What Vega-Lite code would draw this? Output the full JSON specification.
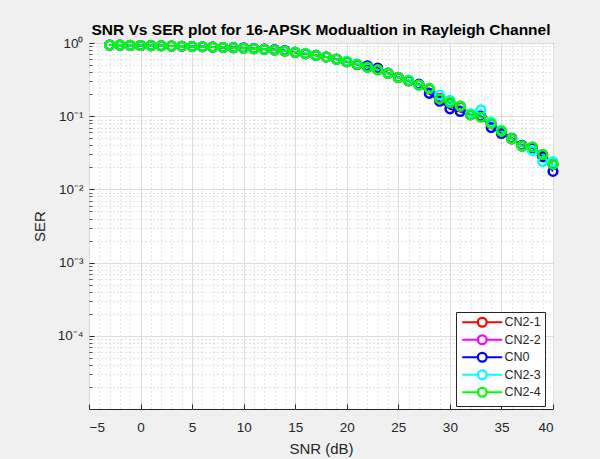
{
  "$schema": "https://vega.github.io/schema/vega-lite/v6.json",
  "width": 464,
  "height": 366,
  "autosize": "none",
  "padding": {"left": 89, "top": 43, "right": 47, "bottom": 50},
  "background": "#f0f0f0",
  "config": {
    "view": {"fill": "white", "stroke": "#262626", "strokeWidth": 1},
    "font": "Liberation Sans"
  },
  "title": {
    "text": "SNR Vs SER plot for 16-APSK Modualtion in Rayleigh Channel",
    "font": "Liberation Sans",
    "fontSize": 15.5,
    "fontWeight": "bold",
    "color": "black",
    "anchor": "middle",
    "frame": "group",
    "offset": -3
  },
  "datasets": {
    "ser": [
      {"s": "CN2-1", "snr": -3, "ser": 0.94}, {"s": "CN2-1", "snr": -2, "ser": 0.935}, {"s": "CN2-1", "snr": -1, "ser": 0.93}, {"s": "CN2-1", "snr": 0, "ser": 0.925}, {"s": "CN2-1", "snr": 1, "ser": 0.92}, {"s": "CN2-1", "snr": 2, "ser": 0.915}, {"s": "CN2-1", "snr": 3, "ser": 0.91}, {"s": "CN2-1", "snr": 4, "ser": 0.905}, {"s": "CN2-1", "snr": 5, "ser": 0.895}, {"s": "CN2-1", "snr": 6, "ser": 0.89}, {"s": "CN2-1", "snr": 7, "ser": 0.88}, {"s": "CN2-1", "snr": 8, "ser": 0.87}, {"s": "CN2-1", "snr": 9, "ser": 0.86}, {"s": "CN2-1", "snr": 10, "ser": 0.85}, {"s": "CN2-1", "snr": 11, "ser": 0.835}, {"s": "CN2-1", "snr": 12, "ser": 0.82}, {"s": "CN2-1", "snr": 13, "ser": 0.8}, {"s": "CN2-1", "snr": 14, "ser": 0.775}, {"s": "CN2-1", "snr": 15, "ser": 0.745}, {"s": "CN2-1", "snr": 16, "ser": 0.715}, {"s": "CN2-1", "snr": 17, "ser": 0.68}, {"s": "CN2-1", "snr": 18, "ser": 0.645}, {"s": "CN2-1", "snr": 19, "ser": 0.6}, {"s": "CN2-1", "snr": 20, "ser": 0.557}, {"s": "CN2-1", "snr": 21, "ser": 0.512}, {"s": "CN2-1", "snr": 22, "ser": 0.47}, {"s": "CN2-1", "snr": 23, "ser": 0.432}, {"s": "CN2-1", "snr": 24, "ser": 0.385}, {"s": "CN2-1", "snr": 25, "ser": 0.34}, {"s": "CN2-1", "snr": 26, "ser": 0.305}, {"s": "CN2-1", "snr": 27, "ser": 0.268}, {"s": "CN2-1", "snr": 28, "ser": 0.235}, {"s": "CN2-1", "snr": 29, "ser": 0.175}, {"s": "CN2-1", "snr": 30, "ser": 0.152}, {"s": "CN2-1", "snr": 31, "ser": 0.135}, {"s": "CN2-1", "snr": 32, "ser": 0.105}, {"s": "CN2-1", "snr": 33, "ser": 0.099}, {"s": "CN2-1", "snr": 34, "ser": 0.079}, {"s": "CN2-1", "snr": 35, "ser": 0.062}, {"s": "CN2-1", "snr": 36, "ser": 0.049}, {"s": "CN2-1", "snr": 37, "ser": 0.039}, {"s": "CN2-1", "snr": 38, "ser": 0.037}, {"s": "CN2-1", "snr": 39, "ser": 0.029}, {"s": "CN2-1", "snr": 40, "ser": 0.022},
      {"s": "CN2-2", "snr": -3, "ser": 0.94}, {"s": "CN2-2", "snr": -2, "ser": 0.935}, {"s": "CN2-2", "snr": -1, "ser": 0.93}, {"s": "CN2-2", "snr": 0, "ser": 0.925}, {"s": "CN2-2", "snr": 1, "ser": 0.92}, {"s": "CN2-2", "snr": 2, "ser": 0.915}, {"s": "CN2-2", "snr": 3, "ser": 0.91}, {"s": "CN2-2", "snr": 4, "ser": 0.905}, {"s": "CN2-2", "snr": 5, "ser": 0.895}, {"s": "CN2-2", "snr": 6, "ser": 0.89}, {"s": "CN2-2", "snr": 7, "ser": 0.88}, {"s": "CN2-2", "snr": 8, "ser": 0.87}, {"s": "CN2-2", "snr": 9, "ser": 0.86}, {"s": "CN2-2", "snr": 10, "ser": 0.85}, {"s": "CN2-2", "snr": 11, "ser": 0.835}, {"s": "CN2-2", "snr": 12, "ser": 0.82}, {"s": "CN2-2", "snr": 13, "ser": 0.8}, {"s": "CN2-2", "snr": 14, "ser": 0.775}, {"s": "CN2-2", "snr": 15, "ser": 0.745}, {"s": "CN2-2", "snr": 16, "ser": 0.715}, {"s": "CN2-2", "snr": 17, "ser": 0.68}, {"s": "CN2-2", "snr": 18, "ser": 0.645}, {"s": "CN2-2", "snr": 19, "ser": 0.6}, {"s": "CN2-2", "snr": 20, "ser": 0.556}, {"s": "CN2-2", "snr": 21, "ser": 0.51}, {"s": "CN2-2", "snr": 22, "ser": 0.468}, {"s": "CN2-2", "snr": 23, "ser": 0.43}, {"s": "CN2-2", "snr": 24, "ser": 0.385}, {"s": "CN2-2", "snr": 25, "ser": 0.339}, {"s": "CN2-2", "snr": 26, "ser": 0.305}, {"s": "CN2-2", "snr": 27, "ser": 0.267}, {"s": "CN2-2", "snr": 28, "ser": 0.238}, {"s": "CN2-2", "snr": 29, "ser": 0.176}, {"s": "CN2-2", "snr": 30, "ser": 0.154}, {"s": "CN2-2", "snr": 31, "ser": 0.137}, {"s": "CN2-2", "snr": 32, "ser": 0.104}, {"s": "CN2-2", "snr": 33, "ser": 0.098}, {"s": "CN2-2", "snr": 34, "ser": 0.079}, {"s": "CN2-2", "snr": 35, "ser": 0.062}, {"s": "CN2-2", "snr": 36, "ser": 0.049}, {"s": "CN2-2", "snr": 37, "ser": 0.039}, {"s": "CN2-2", "snr": 38, "ser": 0.038}, {"s": "CN2-2", "snr": 39, "ser": 0.03}, {"s": "CN2-2", "snr": 40, "ser": 0.022},
      {"s": "CN0", "snr": -3, "ser": 0.94}, {"s": "CN0", "snr": -2, "ser": 0.935}, {"s": "CN0", "snr": -1, "ser": 0.93}, {"s": "CN0", "snr": 0, "ser": 0.925}, {"s": "CN0", "snr": 1, "ser": 0.92}, {"s": "CN0", "snr": 2, "ser": 0.915}, {"s": "CN0", "snr": 3, "ser": 0.91}, {"s": "CN0", "snr": 4, "ser": 0.905}, {"s": "CN0", "snr": 5, "ser": 0.895}, {"s": "CN0", "snr": 6, "ser": 0.89}, {"s": "CN0", "snr": 7, "ser": 0.88}, {"s": "CN0", "snr": 8, "ser": 0.87}, {"s": "CN0", "snr": 9, "ser": 0.865}, {"s": "CN0", "snr": 10, "ser": 0.862}, {"s": "CN0", "snr": 11, "ser": 0.84}, {"s": "CN0", "snr": 12, "ser": 0.825}, {"s": "CN0", "snr": 13, "ser": 0.815}, {"s": "CN0", "snr": 14, "ser": 0.79}, {"s": "CN0", "snr": 15, "ser": 0.745}, {"s": "CN0", "snr": 16, "ser": 0.715}, {"s": "CN0", "snr": 17, "ser": 0.68}, {"s": "CN0", "snr": 18, "ser": 0.645}, {"s": "CN0", "snr": 19, "ser": 0.605}, {"s": "CN0", "snr": 20, "ser": 0.555}, {"s": "CN0", "snr": 21, "ser": 0.51}, {"s": "CN0", "snr": 22, "ser": 0.49}, {"s": "CN0", "snr": 23, "ser": 0.455}, {"s": "CN0", "snr": 24, "ser": 0.39}, {"s": "CN0", "snr": 25, "ser": 0.338}, {"s": "CN0", "snr": 26, "ser": 0.305}, {"s": "CN0", "snr": 27, "ser": 0.275}, {"s": "CN0", "snr": 28, "ser": 0.205}, {"s": "CN0", "snr": 29, "ser": 0.16}, {"s": "CN0", "snr": 30, "ser": 0.126}, {"s": "CN0", "snr": 31, "ser": 0.116}, {"s": "CN0", "snr": 32, "ser": 0.106}, {"s": "CN0", "snr": 33, "ser": 0.1}, {"s": "CN0", "snr": 34, "ser": 0.07}, {"s": "CN0", "snr": 35, "ser": 0.058}, {"s": "CN0", "snr": 36, "ser": 0.05}, {"s": "CN0", "snr": 37, "ser": 0.04}, {"s": "CN0", "snr": 38, "ser": 0.037}, {"s": "CN0", "snr": 39, "ser": 0.028}, {"s": "CN0", "snr": 40, "ser": 0.0176},
      {"s": "CN2-3", "snr": -3, "ser": 0.94}, {"s": "CN2-3", "snr": -2, "ser": 0.935}, {"s": "CN2-3", "snr": -1, "ser": 0.93}, {"s": "CN2-3", "snr": 0, "ser": 0.925}, {"s": "CN2-3", "snr": 1, "ser": 0.92}, {"s": "CN2-3", "snr": 2, "ser": 0.915}, {"s": "CN2-3", "snr": 3, "ser": 0.91}, {"s": "CN2-3", "snr": 4, "ser": 0.905}, {"s": "CN2-3", "snr": 5, "ser": 0.895}, {"s": "CN2-3", "snr": 6, "ser": 0.89}, {"s": "CN2-3", "snr": 7, "ser": 0.88}, {"s": "CN2-3", "snr": 8, "ser": 0.87}, {"s": "CN2-3", "snr": 9, "ser": 0.86}, {"s": "CN2-3", "snr": 10, "ser": 0.85}, {"s": "CN2-3", "snr": 11, "ser": 0.835}, {"s": "CN2-3", "snr": 12, "ser": 0.82}, {"s": "CN2-3", "snr": 13, "ser": 0.8}, {"s": "CN2-3", "snr": 14, "ser": 0.775}, {"s": "CN2-3", "snr": 15, "ser": 0.752}, {"s": "CN2-3", "snr": 16, "ser": 0.725}, {"s": "CN2-3", "snr": 17, "ser": 0.68}, {"s": "CN2-3", "snr": 18, "ser": 0.645}, {"s": "CN2-3", "snr": 19, "ser": 0.6}, {"s": "CN2-3", "snr": 20, "ser": 0.565}, {"s": "CN2-3", "snr": 21, "ser": 0.52}, {"s": "CN2-3", "snr": 22, "ser": 0.466}, {"s": "CN2-3", "snr": 23, "ser": 0.43}, {"s": "CN2-3", "snr": 24, "ser": 0.385}, {"s": "CN2-3", "snr": 25, "ser": 0.338}, {"s": "CN2-3", "snr": 26, "ser": 0.312}, {"s": "CN2-3", "snr": 27, "ser": 0.267}, {"s": "CN2-3", "snr": 28, "ser": 0.24}, {"s": "CN2-3", "snr": 29, "ser": 0.195}, {"s": "CN2-3", "snr": 30, "ser": 0.165}, {"s": "CN2-3", "snr": 31, "ser": 0.138}, {"s": "CN2-3", "snr": 32, "ser": 0.108}, {"s": "CN2-3", "snr": 33, "ser": 0.122}, {"s": "CN2-3", "snr": 34, "ser": 0.083}, {"s": "CN2-3", "snr": 35, "ser": 0.064}, {"s": "CN2-3", "snr": 36, "ser": 0.049}, {"s": "CN2-3", "snr": 37, "ser": 0.039}, {"s": "CN2-3", "snr": 38, "ser": 0.034}, {"s": "CN2-3", "snr": 39, "ser": 0.024}, {"s": "CN2-3", "snr": 40, "ser": 0.024},
      {"s": "CN2-4", "snr": -3, "ser": 0.94}, {"s": "CN2-4", "snr": -2, "ser": 0.935}, {"s": "CN2-4", "snr": -1, "ser": 0.93}, {"s": "CN2-4", "snr": 0, "ser": 0.925}, {"s": "CN2-4", "snr": 1, "ser": 0.92}, {"s": "CN2-4", "snr": 2, "ser": 0.915}, {"s": "CN2-4", "snr": 3, "ser": 0.91}, {"s": "CN2-4", "snr": 4, "ser": 0.905}, {"s": "CN2-4", "snr": 5, "ser": 0.895}, {"s": "CN2-4", "snr": 6, "ser": 0.89}, {"s": "CN2-4", "snr": 7, "ser": 0.88}, {"s": "CN2-4", "snr": 8, "ser": 0.87}, {"s": "CN2-4", "snr": 9, "ser": 0.86}, {"s": "CN2-4", "snr": 10, "ser": 0.85}, {"s": "CN2-4", "snr": 11, "ser": 0.835}, {"s": "CN2-4", "snr": 12, "ser": 0.82}, {"s": "CN2-4", "snr": 13, "ser": 0.8}, {"s": "CN2-4", "snr": 14, "ser": 0.775}, {"s": "CN2-4", "snr": 15, "ser": 0.745}, {"s": "CN2-4", "snr": 16, "ser": 0.715}, {"s": "CN2-4", "snr": 17, "ser": 0.68}, {"s": "CN2-4", "snr": 18, "ser": 0.645}, {"s": "CN2-4", "snr": 19, "ser": 0.6}, {"s": "CN2-4", "snr": 20, "ser": 0.555}, {"s": "CN2-4", "snr": 21, "ser": 0.51}, {"s": "CN2-4", "snr": 22, "ser": 0.466}, {"s": "CN2-4", "snr": 23, "ser": 0.43}, {"s": "CN2-4", "snr": 24, "ser": 0.385}, {"s": "CN2-4", "snr": 25, "ser": 0.338}, {"s": "CN2-4", "snr": 26, "ser": 0.305}, {"s": "CN2-4", "snr": 27, "ser": 0.267}, {"s": "CN2-4", "snr": 28, "ser": 0.24}, {"s": "CN2-4", "snr": 29, "ser": 0.172}, {"s": "CN2-4", "snr": 30, "ser": 0.155}, {"s": "CN2-4", "snr": 31, "ser": 0.138}, {"s": "CN2-4", "snr": 32, "ser": 0.104}, {"s": "CN2-4", "snr": 33, "ser": 0.097}, {"s": "CN2-4", "snr": 34, "ser": 0.079}, {"s": "CN2-4", "snr": 35, "ser": 0.062}, {"s": "CN2-4", "snr": 36, "ser": 0.049}, {"s": "CN2-4", "snr": 37, "ser": 0.039}, {"s": "CN2-4", "snr": 38, "ser": 0.038}, {"s": "CN2-4", "snr": 39, "ser": 0.03}, {"s": "CN2-4", "snr": 40, "ser": 0.022}
    ]
  },
  "data": {"name": "ser"},
  "layer": [
    {
      "mark": {"type": "line", "strokeWidth": 2, "clip": true},
      "encoding": {
        "x": {
          "field": "snr", "type": "quantitative",
          "scale": {"domain": [-5, 40], "nice": false, "zero": false},
          "axis": {
            "orient": "bottom",
            "values": [-5, 0, 5, 10, 15, 20, 25, 30, 35, 40],
            "title": "SNR (dB)",
            "titleFont": "Liberation Sans", "titleFontSize": 15, "titleFontWeight": "normal", "titleColor": "#262626", "titlePadding": 8,
            "labelFont": "Liberation Sans", "labelFontSize": 13.5, "labelColor": "#262626", "labelPadding": 16,
            "grid": true, "gridColor": "#dcdcdc", "gridWidth": 1,
            "ticks": true, "tickSize": -5, "tickColor": "#262626", "tickWidth": 1,
            "domain": false
          }
        },
        "y": {
          "field": "ser", "type": "quantitative",
          "scale": {"type": "log", "domain": [0.00001, 1], "nice": false},
          "axis": {
            "orient": "left",
            "values": [0.0001, 0.001, 0.01, 0.1, 1],
            "labelExpr": "datum.value >= 0.5 ? '10⁰' : datum.value >= 0.05 ? '10⁻¹' : datum.value >= 0.005 ? '10⁻²' : datum.value >= 0.0005 ? '10⁻³' : '10⁻⁴'",
            "title": "SER",
            "titleFont": "Liberation Sans", "titleFontSize": 15, "titleFontWeight": "normal", "titleColor": "#262626", "titlePadding": 10,
            "labelFont": "Liberation Sans", "labelFontSize": 13.5, "labelColor": "#262626", "labelPadding": 11,
            "grid": true, "gridColor": "#dcdcdc", "gridWidth": 1,
            "ticks": true, "tickSize": -5, "tickColor": "#262626", "tickWidth": 1,
            "domain": false
          }
        },
        "color": {
          "field": "s", "type": "nominal",
          "scale": {"domain": ["CN2-1", "CN2-2", "CN0", "CN2-3", "CN2-4"], "range": ["#ff0000", "#ff00ff", "#0000ff", "#00ffff", "#00ff00"]},
          "legend": {
            "title": null,
            "orient": "none",
            "legendX": 367,
            "legendY": 269,
            "fillColor": "white",
            "strokeColor": "#262626",
            "padding": 4,
            "symbolType": "M-5,0H-1.1M1.1,0H5M-1.1,0A1.1,1.1,0,1,1,1.1,0A1.1,1.1,0,1,1,-1.1,0",
            "symbolSize": 64,
            "symbolOffset": 16,
            "symbolStrokeWidth": 2.2,
            "symbolFillColor": "transparent",
            "labelFont": "Liberation Sans",
            "labelFontSize": 12.5,
            "labelColor": "#262626",
            "labelOffset": 16,
            "rowPadding": -1.5
          }
        },
        "order": {"field": "snr"}
      }
    },
    {
      "mark": {"type": "point", "filled": false, "size": 75, "strokeWidth": 2.4, "opacity": 1},
      "encoding": {
        "x": {
          "field": "snr", "type": "quantitative",
          "axis": {
            "orient": "bottom",
            "values": [-4, -3, -2, -1, 1, 2, 3, 4, 6, 7, 8, 9, 11, 12, 13, 14, 16, 17, 18, 19, 21, 22, 23, 24, 26, 27, 28, 29, 31, 32, 33, 34, 36, 37, 38, 39],
            "title": null, "labels": false, "ticks": false, "domain": false,
            "grid": true, "gridColor": "#c8c8c8", "gridDash": [1, 3], "gridWidth": 1
          }
        },
        "y": {
          "field": "ser", "type": "quantitative",
          "axis": {
            "orient": "left",
            "values": [0.00002, 0.00003, 0.00004, 0.00005, 0.00006, 0.00007, 0.00008, 0.00009, 0.0002, 0.0003, 0.0004, 0.0005, 0.0006, 0.0007, 0.0008, 0.0009, 0.002, 0.003, 0.004, 0.005, 0.006, 0.007, 0.008, 0.009, 0.02, 0.03, 0.04, 0.05, 0.06, 0.07, 0.08, 0.09, 0.2, 0.3, 0.4, 0.5, 0.6, 0.7, 0.8, 0.9],
            "title": null, "labels": false, "domain": false,
            "ticks": true, "tickSize": -3, "tickColor": "#262626", "tickWidth": 0.8,
            "grid": true, "gridColor": "#c8c8c8", "gridDash": [1, 3], "gridWidth": 1
          }
        },
        "color": {"field": "s", "type": "nominal", "legend": null}
      }
    }
  ],
  "resolve": {"axis": {"x": "independent", "y": "independent"}}
}
